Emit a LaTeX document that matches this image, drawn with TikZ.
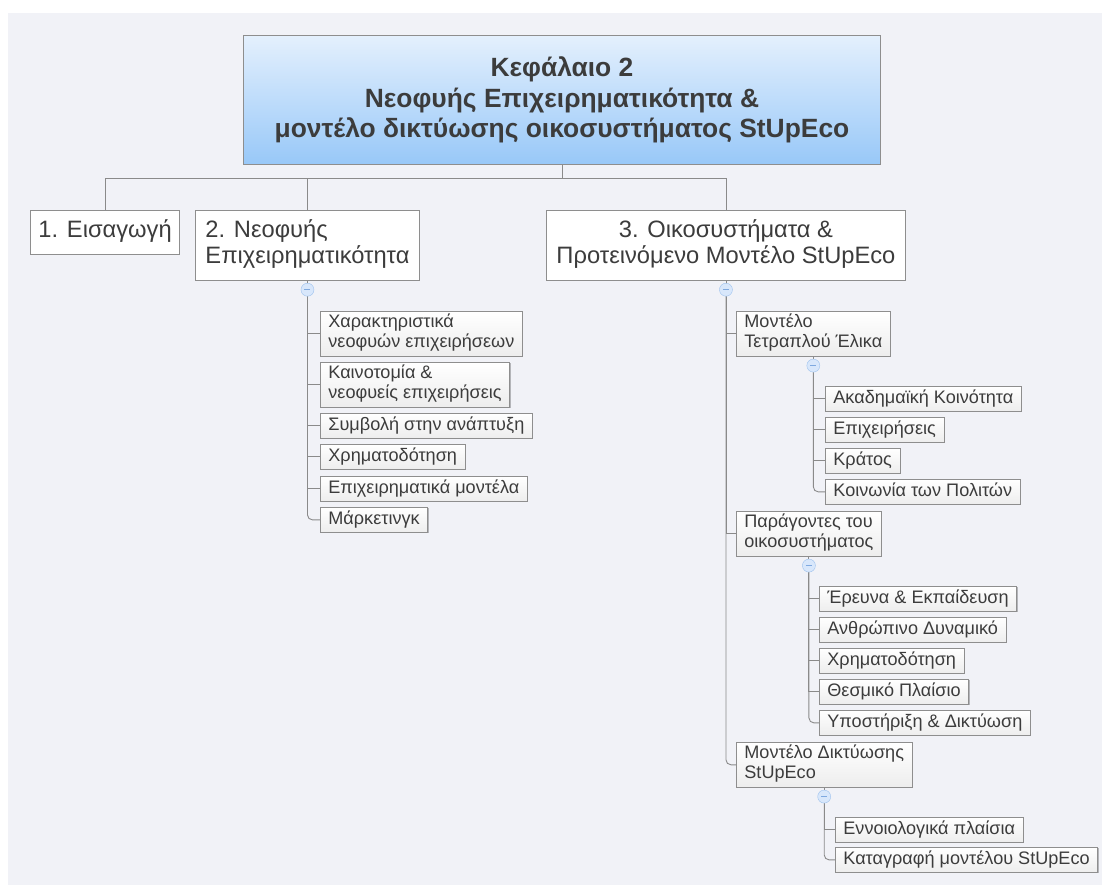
\documentclass[tikz,border=0pt]{standalone}
\usepackage{fontspec}
\setmainfont{Liberation Sans}
\usetikzlibrary{shadows}
\definecolor{canvas}{HTML}{F1F2F7}
\definecolor{ink}{HTML}{3C3C3C}
\definecolor{rim}{HTML}{8E8E8E}
\definecolor{wirecol}{HTML}{8A8A8A}
\definecolor{skytop}{HTML}{E4F0FD}
\definecolor{skybot}{HTML}{98C8F8}
\definecolor{knobfill}{HTML}{D8E7FB}
\definecolor{knobrim}{HTML}{9EC2EE}
\definecolor{knobbar}{HTML}{7FA9E0}
\begin{document}
\begin{tikzpicture}[x=1pt,y=-1pt,
  every node/.style={text=ink},
  chapter/.style={draw=rim, line width=0.9pt, top color=skytop, bottom color=skybot,
    minimum width=637pt, minimum height=129pt, align=center, anchor=north west,
    inner sep=0pt, font=\fontsize{26.4}{30.5}\bfseries\selectfont},
  part/.style={draw=rim, line width=0.9pt, fill=white, anchor=north west,
    inner xsep=10pt, inner ysep=8.75pt, font=\fontsize{23.7}{26.5}\selectfont,
    execute at begin node=\strut, execute at end node=\strut},
  topic/.style={draw=rim, line width=0.8pt, top color=white, bottom color=black!7,
    anchor=north west, align=left, inner xsep=8pt, inner ysep=2.25pt,
    font=\fontsize{18.1}{20.5}\selectfont,
    execute at begin node=\strut, execute at end node=\strut,
    drop shadow={shadow xshift=1pt, shadow yshift=-1pt, opacity=0.25, fill=black}},
  knob/.style={circle, draw=knobrim, fill=knobfill, minimum size=13pt, inner sep=0pt,
    path picture={\draw[knobbar, line width=0.8pt]
      ([xshift=-3pt]path picture bounding box.center) --
      ([xshift=3pt]path picture bounding box.center);}},
  wire/.style={draw=wirecol, line width=0.9pt},
  lastwire/.style={wire, rounded corners=5pt}]

% canvas
\useasboundingbox (0,0) rectangle (1102,885);
\fill[canvas] (8,13) rectangle (1102,885);

% chapter title
\node[chapter] (root) at (243,35)
  {Κεφάλαιο 2\\Νεοφυής Επιχειρηματικότητα \&\\μοντέλο δικτύωσης οικοσυστήματος StUpEco};

% main parts
\node[part, inner xsep=8pt] (p1) at (30,210) {1. Εισαγωγή};
\node[part, align=left] (p2) at (195,210) {2. Νεοφυής\\Επιχειρηματικότητα};
\node[part, align=center] (p3) at (546,210) {3. Οικοσυστήματα \&\\Προτεινόμενο Μοντέλο StUpEco};

% part 2 topics
\node[topic] (a1) at (320,311) {Χαρακτηριστικά\\νεοφυών επιχειρήσεων};
\node[topic] (a2) at (320,362) {Καινοτομία \&\\νεοφυείς επιχειρήσεις};
\node[topic] (a3) at (320,413) {Συμβολή στην ανάπτυξη};
\node[topic] (a4) at (320,444) {Χρηματοδότηση};
\node[topic] (a5) at (320,476) {Επιχειρηματικά μοντέλα};
\node[topic] (a6) at (320,507) {Μάρκετινγκ};

% part 3 sections
\node[topic] (b1) at (736,311) {Μοντέλο\\Τετραπλού Έλικα};
\node[topic] (b2) at (736,511) {Παράγοντες του\\οικοσυστήματος};
\node[topic] (b3) at (736,742) {Μοντέλο Δικτύωσης\\StUpEco};

% quadruple helix
\node[topic] (h1) at (825,386) {Ακαδημαϊκή Κοινότητα};
\node[topic] (h2) at (825,417) {Επιχειρήσεις};
\node[topic] (h3) at (825,448) {Κράτος};
\node[topic] (h4) at (825,479) {Κοινωνία των Πολιτών};

% ecosystem factors
\node[topic] (f1) at (819,586) {Έρευνα \& Εκπαίδευση};
\node[topic] (f2) at (819,617) {Ανθρώπινο Δυναμικό};
\node[topic] (f3) at (819,648) {Χρηματοδότηση};
\node[topic] (f4) at (819,679) {Θεσμικό Πλαίσιο};
\node[topic] (f5) at (819,710) {Υποστήριξη \& Δικτύωση};

% networking model
\node[topic] (m1) at (835,817) {Εννοιολογικά πλαίσια};
\node[topic] (m2) at (835,847) {Καταγραφή μοντέλου StUpEco};

% junctions
\coordinate (fork) at ([yshift=-14pt]root.south);
\coordinate (k2) at ([yshift=-9pt]p2.south);
\coordinate (k3) at ([yshift=-9pt]p3.south);
\coordinate (kb1) at ([yshift=-9pt]b1.south);
\coordinate (kb2) at ([yshift=-9pt]b2.south);
\coordinate (kb3) at ([yshift=-9pt]b3.south);

% connectors
\draw[wire] (root.south) -- (fork);
\draw[wire] (fork) -| (p1.north);
\draw[wire] (fork) -| (p2.north);
\draw[wire] (fork) -| (p3.north);

\draw[wire] (p2.south) -- (k2);
\foreach \t in {a1,a2,a3,a4,a5} \draw[wire] (k2) |- (\t.west);
\draw[lastwire] (k2) |- (a6.west);

\draw[wire] (p3.south) -- (k3);
\foreach \t in {b1,b2} \draw[wire] (k3) |- (\t.west);
\draw[lastwire] (k3) |- (b3.west);

\draw[wire] (b1.south) -- (kb1);
\foreach \t in {h1,h2,h3} \draw[wire] (kb1) |- (\t.west);
\draw[lastwire] (kb1) |- (h4.west);

\draw[wire] (b2.south) -- (kb2);
\foreach \t in {f1,f2,f3,f4} \draw[wire] (kb2) |- (\t.west);
\draw[lastwire] (kb2) |- (f5.west);

\draw[wire] (b3.south) -- (kb3);
\draw[wire] (kb3) |- (m1.west);
\draw[lastwire] (kb3) |- (m2.west);

% collapse knobs
\foreach \k in {k2,k3,kb1,kb2,kb3} \node[knob] (\k-knob) at (\k) {};
\end{tikzpicture}
\end{document}
